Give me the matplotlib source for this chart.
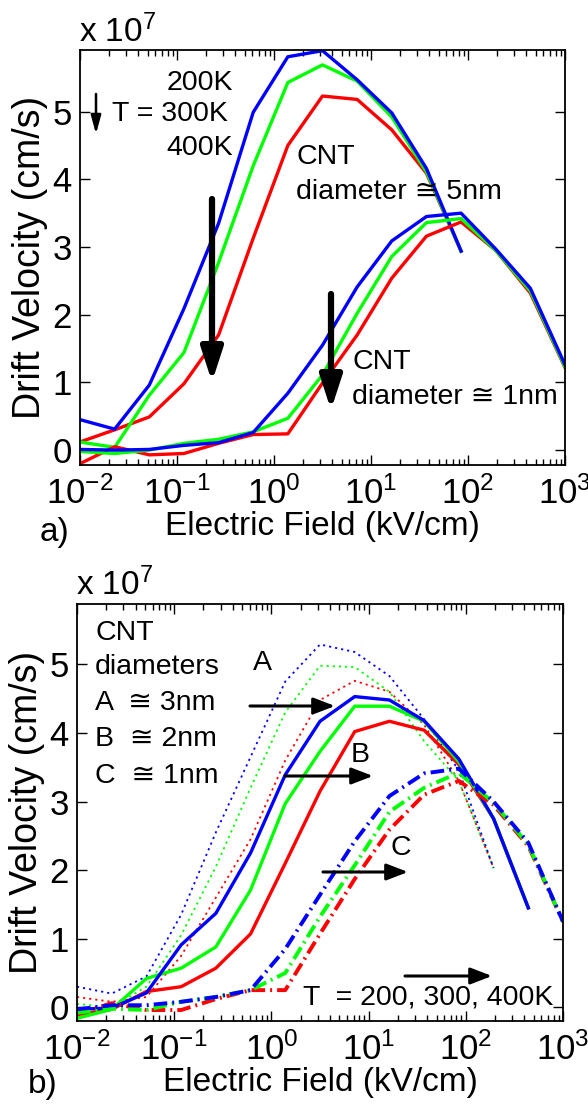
import numpy as np
import matplotlib.pyplot as plt
from matplotlib.patches import FancyArrowPatch

plt.rcParams['font.family'] = ['Liberation Sans', 'DejaVu Sans']
plt.rcParams['mathtext.fontset'] = 'custom'
plt.rcParams['mathtext.rm'] = 'Liberation Sans'
plt.rcParams['mathtext.it'] = 'Liberation Sans:italic'

W, H = 588, 1109

# electric field points (kV/cm)
field = [0.01, 0.02276, 0.0518, 0.1179, 0.2683, 0.6105, 1.389, 3.162,
         7.197, 16.38, 37.28, 84.83, 193.1, 439.4, 1000]

# panel a, drift velocity in 1e7 cm/s
d5_200 = [0.45, 0.31, 0.96, 2.09, 3.35, 4.99, 5.81, 5.90, 5.47, 4.98, 4.16, 2.94]
d5_300 = [0.12, 0.04, 0.81, 1.44, 2.77, 4.20, 5.43, 5.69, 5.45, 4.92, 4.11, 2.94]
d5_400 = [0.12, 0.30, 0.49, 0.98, 1.70, 3.13, 4.50, 5.23, 5.18, 4.73, 4.09, 2.94]

d1_200 = [0.01, 0.0, 0.01, 0.07, 0.11, 0.26, 0.84, 1.55, 2.41, 3.09, 3.45, 3.50, 2.97, 2.39, 1.26]
d1_300 = [-0.02, -0.05, 0.0, 0.10, 0.16, 0.27, 0.47, 1.11, 2.02, 2.86, 3.36, 3.42, 2.95, 2.35, 1.23]
d1_400 = [-0.2, 0.05, -0.07, -0.05, 0.10, 0.23, 0.24, 0.99, 1.70, 2.54, 3.16, 3.37, 2.95, 2.32, 1.22]

# panel b
a_200 = [0.30, 0.20, 0.45, 1.35, 2.55, 3.65, 4.75, 5.29, 5.18, 4.83, 4.20, 3.45, 2.03]
a_300 = [0.05, 0.0, 0.30, 1.05, 2.05, 3.20, 4.30, 4.98, 4.96, 4.60, 3.88, 3.30, 2.03]
a_400 = [0.15, 0.08, 0.15, 0.75, 1.60, 2.45, 3.60, 4.48, 4.76, 4.60, 4.12, 3.30, 2.03]

b_200 = [-0.03, -0.01, 0.21, 0.91, 1.37, 2.25, 3.39, 4.17, 4.53, 4.48, 4.18, 3.62, 2.75, 1.45]
b_300 = [-0.16, -0.03, 0.42, 0.57, 0.88, 1.71, 2.97, 3.73, 4.39, 4.39, 4.17, 3.58, 2.75, 1.45]
b_400 = [-0.11, -0.03, 0.23, 0.30, 0.57, 1.07, 2.10, 3.15, 4.02, 4.17, 4.04, 3.54, 2.75, 1.45]

c_200 = [-0.03, 0.03, 0.03, 0.08, 0.15, 0.25, 0.85, 1.64, 2.42, 3.08, 3.41, 3.48, 3.00, 2.40, 1.25]
c_300 = [-0.08, -0.02, -0.04, 0.08, 0.15, 0.25, 0.50, 1.32, 2.07, 2.85, 3.20, 3.42, 2.98, 2.37, 1.25]
c_400 = [-0.10, 0.06, -0.04, -0.04, 0.12, 0.25, 0.25, 1.07, 1.87, 2.59, 3.10, 3.30, 2.95, 2.35, 1.25]

BLUE, GREEN, RED = (0, 0, 1), (0, 1, 0), (1, 0, 0)
TICK_FS = 25
XLAB_FS = 24
YLAB_FS = 27
TXT_FS = 20.5

fig = plt.figure(figsize=(W / 100, H / 100), dpi=100)

def fpx(x, y):
    # figure fraction from pixel position measured from top-left
    return x / W, 1 - y / H

def style_axes(ax, ylim):
    ax.set_xscale('log')
    ax.set_xlim(1e-2, 1e3)
    ax.set_ylim(*ylim)
    ax.set_yticks([0, 1, 2, 3, 4, 5])
    ax.set_xticks([1e-2, 1e-1, 1e0, 1e1, 1e2, 1e3])
    ax.tick_params(which='both', direction='in', top=True, right=True,
                   labelsize=TICK_FS, width=1)
    ax.tick_params(which='major', length=7)
    ax.tick_params(which='minor', length=4)
    ax.tick_params(axis='x', pad=8)
    ax.tick_params(axis='y', pad=6)
    for s in ax.spines.values():
        s.set_linewidth(1.3)
    ax.set_xlabel('Electric Field (kV/cm)', fontsize=XLAB_FS, labelpad=0)
    ax.set_ylabel('Drift Velocity (cm/s)', fontsize=YLAB_FS, labelpad=3)

def arrow(tail, tip, lw, hw, hl):
    fig.add_artist(FancyArrowPatch(
        (tail[0], H - tail[1]), (tip[0], H - tip[1]), transform=None,
        arrowstyle='-|>,head_width=%g,head_length=%g' % (hw, hl),
        mutation_scale=1, lw=lw, color='black', shrinkA=0, shrinkB=0))

# ---------------- panel a
ax1 = fig.add_axes([80 / W, (H - 465) / H, 485 / W, 415 / H])
lw = 2.4
ax1.plot(field[:12], d5_400, color=RED, lw=lw)
ax1.plot(field[:12], d5_300, color=GREEN, lw=lw)
ax1.plot(field[:12], d5_200, color=BLUE, lw=lw)
ax1.plot(field, d1_400, color=RED, lw=lw)
ax1.plot(field, d1_300, color=GREEN, lw=lw)
ax1.plot(field, d1_200, color=BLUE, lw=lw)
style_axes(ax1, (-0.22, 5.91))

fig.text(*fpx(79, 42), r'x 10$^{7}$', fontsize=24, ha='left', va='baseline')
fig.text(*fpx(233, 83), '200K', fontsize=TXT_FS, ha='right', va='center')
fig.text(*fpx(112, 114), 'T = 300K', fontsize=TXT_FS, ha='left', va='center')
fig.text(*fpx(233, 148), '400K', fontsize=TXT_FS, ha='right', va='center')
fig.text(*fpx(296, 157), 'CNT', fontsize=TXT_FS, ha='left', va='center')
fig.text(*fpx(296, 192), 'diameter \u2245 5nm', fontsize=TXT_FS, ha='left', va='center')
fig.text(*fpx(352, 362), 'CNT', fontsize=TXT_FS, ha='left', va='center')
fig.text(*fpx(352, 397), 'diameter \u2245 1nm', fontsize=TXT_FS, ha='left', va='center')
fig.text(*fpx(40, 532), 'a)', fontsize=XLAB_FS, ha='left', va='center')

arrow((96, 94), (96, 134), 1.8, 3, 11)
arrow((212, 199), (212, 382), 4.5, 6.5, 20)
arrow((331, 294), (331, 410), 4.5, 6.5, 20)

# ---------------- panel b
ax2 = fig.add_axes([77 / W, (H - 1021) / H, 486 / W, 417 / H])
for vals, col in ((a_400, RED), (a_300, GREEN), (a_200, BLUE)):
    ax2.plot(field[:13], vals, color=col, lw=1.3, linestyle=(0, (1.2, 2.2)))
for vals, col in ((b_400, RED), (b_300, GREEN), (b_200, BLUE)):
    ax2.plot(field[:14], vals, color=col, lw=2.4)
for vals, col in ((c_400, RED), (c_300, GREEN), (c_200, BLUE)):
    ax2.plot(field, vals, color=col, lw=2.8, linestyle=(0, (3.5, 1.3, 0.5, 1.3)))
style_axes(ax2, (-0.2, 5.88))

fig.text(*fpx(76, 595), r'x 10$^{7}$', fontsize=24, ha='left', va='baseline')
fig.text(*fpx(95, 633), 'CNT', fontsize=TXT_FS, ha='left', va='center')
fig.text(*fpx(95, 667), 'diameters', fontsize=TXT_FS, ha='left', va='center')
fig.text(*fpx(95, 703), 'A  \u2245 3nm', fontsize=TXT_FS, ha='left', va='center')
fig.text(*fpx(95, 739), 'B  \u2245 2nm', fontsize=TXT_FS, ha='left', va='center')
fig.text(*fpx(95, 776), 'C  \u2245 1nm', fontsize=TXT_FS, ha='left', va='center')
fig.text(*fpx(253, 663), 'A', fontsize=TXT_FS, ha='left', va='center')
fig.text(*fpx(351, 755), 'B', fontsize=TXT_FS, ha='left', va='center')
fig.text(*fpx(390, 848), 'C', fontsize=TXT_FS, ha='left', va='center')
fig.text(*fpx(303, 998), 'T  = 200, 300, 400K', fontsize=TXT_FS, ha='left', va='center')
fig.text(*fpx(28, 1084), 'b)', fontsize=XLAB_FS, ha='left', va='center')

arrow((250, 706), (335, 706), 2.2, 5, 13)
arrow((285, 776), (373, 776), 2.2, 5, 13)
arrow((323, 872), (408, 872), 2.2, 5, 13)
arrow((405, 976), (492, 976), 2.2, 5, 13)

fig.savefig('out.png', dpi=100)
